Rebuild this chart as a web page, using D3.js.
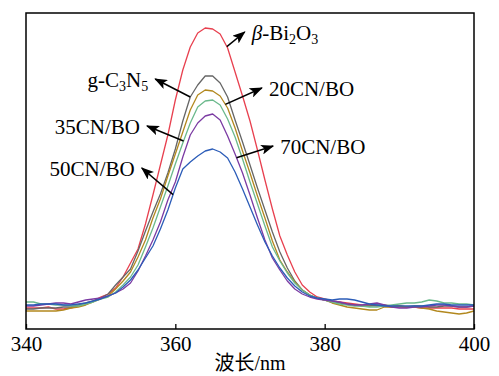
<!DOCTYPE html>
<html>
<head>
<meta charset="utf-8">
<script src="https://cdn.jsdelivr.net/npm/d3@7"></script>
<style>
  html, body { margin: 0; padding: 0; background: #fff; }
  svg { display: block; }
  text { font-family: "Liberation Serif", "Times New Roman", "Noto Sans CJK SC", serif; fill: #000; }
</style>
</head>
<body>
<svg id="chart" width="499" height="376"></svg>
<script>
// Wavelength grid (nm)
const wavelengths = [340,341,342,343,344,345,346,347,348,349,
  350,351,352,353,354,355,356,357,358,359,
  360,361,362,363,364,365,366,367,368,369,
  370,371,372,373,374,375,376,377,378,379,
  380,381,382,383,384,385,386,387,388,389,
  390,391,392,393,394,395,396,397,398,399,400];

// PL intensity (a.u.) for each sample
const biO = [21,21,21,22,20,20,21,23,25,28,
  32,35,41,52,66,80,105,134,164,194,
  229,259,282,296,301,300,295,281,257,233,
  208,179,149,120,93,74,57,44,37,32,
  30,28,27,26,25,24,24,23,23,22,
  22,22,22,21,21,21,21,21,20,20,20];
const gcn = [20,20,21,21,21,22,22,24,26,28,
  31,35,44,52,60,78,98,117,135,156,
  180,208,232,244,253,253,246,232,209,187,
  164,141,119,97,77,61,48,39,34,31,
  29,27,26,25,24,23,23,24,24,23,
  23,22,23,23,22,22,23,23,22,22,23];
const cn20 = [18,18,18,18,18,19,21,22,24,27,
  30,33,40,48,57,72,89,111,130,153,
  175,197,219,234,239,238,233,221,201,178,
  156,133,111,88,69,57,47,39,34,31,
  29,26,24,22,21,20,19,19,22,22,
  23,22,22,21,20,18,17,16,15,16,18];
const cn35 = [27,27,25,25,24,24,23,23,25,27,
  30,32,37,44,52,64,82,101,122,143,
  165,186,206,222,228,229,224,210,192,170,
  147,125,103,82,68,56,46,39,34,31,
  29,27,25,24,23,23,22,22,23,24,
  25,26,26,27,29,28,26,26,25,25,24];
const cn70 = [23,23,24,25,26,26,25,27,29,30,
  31,33,36,40,46,58,73,89,107,129,
  147,172,194,206,213,215,209,193,175,156,
  134,111,89,71,59,48,40,35,32,30,
  29,28,27,25,24,24,25,26,24,22,
  21,21,22,22,23,24,24,23,22,22,23];
const cn50 = [24,24,25,25,25,24,24,25,26,28,
  30,33,36,42,49,59,71,83,100,119,
  141,160,167,173,178,180,177,171,157,140,
  122,104,87,73,61,51,43,37,33,31,
  30,29,30,30,29,27,25,24,23,23,
  23,23,23,23,24,25,25,24,24,24,24];

const xTicks = [340, 360, 380, 400];

const series = [
  { key: "biO",  values: biO,  color: "#e8404f" },
  { key: "gcn",  values: gcn,  color: "#666666" },
  { key: "cn20", values: cn20, color: "#b2881e" },
  { key: "cn35", values: cn35, color: "#6bb98c" },
  { key: "cn70", values: cn70, color: "#7b3ba3" },
  { key: "cn50", values: cn50, color: "#2b5cb8" }
];

// Callout arrows: start on a curve, point toward the label
const callouts = [
  { key: "biO",  label: ["β", "-Bi", "2", "O", "3"], tail: 366.9, headNm: 369.3, headVal: 297, side: "right" },
  { key: "gcn",  label: ["g-C", "3", "N", "5"],      tail: 362.0, headNm: 357.3, headVal: 250, side: "left" },
  { key: "cn20", label: ["20CN/BO"],                  tail: 366.7, headNm: 371.6, headVal: 241, side: "right" },
  { key: "cn35", label: ["35CN/BO"],                  tail: 361.1, headNm: 356.2, headVal: 203, side: "left" },
  { key: "cn70", label: ["70CN/BO"],                  tail: 368.2, headNm: 373.1, headVal: 183, side: "right" },
  { key: "cn50", label: ["50CN/BO"],                  tail: 359.7, headNm: 355.5, headVal: 161, side: "left" }
];

const svg = d3.select("#chart");
const frame = { left: 26, right: 474, top: 13, bottom: 329 };

const x = d3.scaleLinear().domain([340, 400]).range([frame.left, frame.right]);
const y = d3.scaleLinear().domain([0, 316]).range([frame.bottom, frame.top]);

const line = d3.line()
  .x((d, i) => x(wavelengths[i]))
  .y(d => y(d));

// Curves
svg.append("g").attr("class", "curves")
  .selectAll("path")
  .data(series)
  .join("path")
  .attr("d", d => line(d.values))
  .attr("fill", "none")
  .attr("stroke", d => d.color)
  .attr("stroke-width", 1.3)
  .attr("stroke-linejoin", "round");

// Bottom axis with inward ticks
const axis = d3.axisBottom(x)
  .tickValues(xTicks)
  .tickFormat(d3.format("d"))
  .tickSizeInner(-5)
  .tickSizeOuter(0)
  .tickPadding(7);

const gx = svg.append("g")
  .attr("transform", `translate(0,${frame.bottom})`)
  .call(axis);
gx.select(".domain").remove();
gx.selectAll(".tick line").attr("stroke", "#000").attr("stroke-width", 1.3);
gx.selectAll(".tick text")
  .attr("font-size", 21)
  .attr("font-family", "Liberation Serif, Times New Roman, serif")
  .attr("fill", "#000");

// Plot frame
svg.append("rect")
  .attr("x", frame.left)
  .attr("y", frame.top)
  .attr("width", frame.right - frame.left)
  .attr("height", frame.bottom - frame.top)
  .attr("fill", "none")
  .attr("stroke", "#000")
  .attr("stroke-width", 1.5);

// Axis title
svg.append("text")
  .attr("x", (frame.left + frame.right) / 2)
  .attr("y", 370)
  .attr("text-anchor", "middle")
  .attr("font-size", 20)
  .text("波长/nm");

// Arrowhead marker
svg.append("defs").append("marker")
  .attr("id", "head")
  .attr("markerUnits", "userSpaceOnUse")
  .attr("viewBox", "0 0 13 10")
  .attr("refX", 12)
  .attr("refY", 5)
  .attr("markerWidth", 13)
  .attr("markerHeight", 10)
  .attr("orient", "auto")
  .append("path")
  .attr("d", "M0,0 L13,5 L0,10 L3,5 Z")
  .attr("fill", "#000");

const byKey = Object.fromEntries(series.map(s => [s.key, s.values]));
function valueAt(values, nm) {
  const i = d3.bisectRight(wavelengths, nm) - 1;
  const j = Math.min(i + 1, wavelengths.length - 1);
  const t = (nm - wavelengths[i]) / ((wavelengths[j] - wavelengths[i]) || 1);
  return values[i] + (values[j] - values[i]) * t;
}

const ann = svg.append("g").attr("class", "callouts");
callouts.forEach(c => {
  const tx = x(c.tail), ty = y(valueAt(byKey[c.key], c.tail));
  const hx = x(c.headNm), hy = y(c.headVal);
  ann.append("line")
    .attr("x1", tx).attr("y1", ty)
    .attr("x2", hx).attr("y2", hy)
    .attr("stroke", "#000")
    .attr("stroke-width", 1.5)
    .attr("marker-end", "url(#head)");

  const right = c.side === "right";
  const t = ann.append("text")
    .attr("x", hx + (right ? 7 : -7))
    .attr("y", hy + 8)
    .attr("text-anchor", right ? "start" : "end")
    .attr("font-size", 21);

  if (c.key === "biO") {
    t.append("tspan").attr("font-style", "italic").text(c.label[0]);
    t.append("tspan").text(c.label[1]);
    t.append("tspan").attr("font-size", 14).attr("dy", 4).text(c.label[2]);
    t.append("tspan").attr("dy", -4).text(c.label[3]);
    t.append("tspan").attr("font-size", 14).attr("dy", 4).text(c.label[4]);
  } else if (c.key === "gcn") {
    t.append("tspan").text(c.label[0]);
    t.append("tspan").attr("font-size", 14).attr("dy", 4).text(c.label[1]);
    t.append("tspan").attr("dy", -4).text(c.label[2]);
    t.append("tspan").attr("font-size", 14).attr("dy", 4).text(c.label[3]);
  } else {
    t.text(c.label[0]);
  }
});
</script>
</body>
</html>
